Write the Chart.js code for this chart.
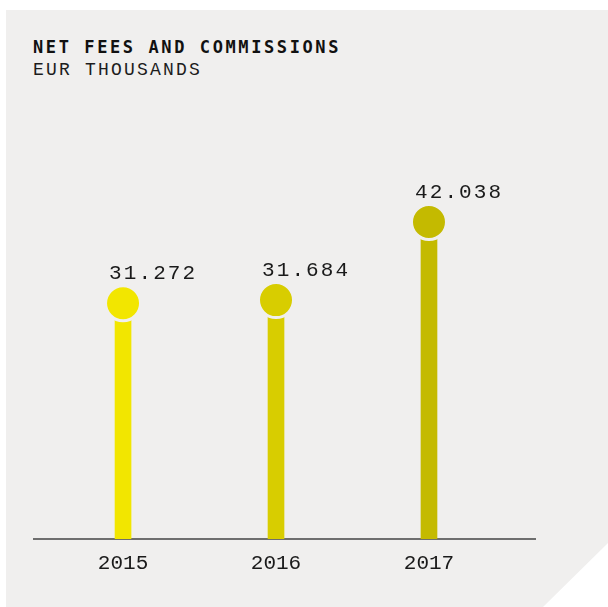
<!DOCTYPE html>
<html>
<head>
<meta charset="utf-8">
<script src="https://cdn.jsdelivr.net/npm/chart.js@4"></script>
<style>
  html, body { margin: 0; padding: 0; background: #ffffff; }
  #wrap { position: relative; width: 608px; height: 607px; overflow: hidden; }
  #panel {
    position: absolute; left: 6px; top: 10px; width: 602px; height: 597px;
    background: #f0efee;
    clip-path: polygon(0 0, 602px 0, 602px 533px, 537px 597px, 0 597px);
  }
  #title {
    position: absolute; left: 33px; top: 38.7px;
    font: bold 17px/17px "DejaVu Sans Mono", monospace;
    letter-spacing: 2.6px; color: #111111; white-space: nowrap;
  }
  #subtitle {
    position: absolute; left: 33px; top: 61.4px;
    font: 18px/18px "Liberation Mono", monospace;
    letter-spacing: 2.2px; color: #1c1c1c; white-space: nowrap;
  }
  #chart { position: absolute; left: 0; top: 0; }
</style>
</head>
<body>
<div id="wrap">
  <div id="panel"></div>
  <div id="title">NET FEES AND COMMISSIONS</div>
  <div id="subtitle">EUR THOUSANDS</div>
  <canvas id="chart" width="608" height="607"></canvas>
</div>
<script>
// net fees and commissions, EUR thousands
const years = ["2015", "2016", "2017"];
const fees = [31.272, 31.684, 42.038];
const valueLabels = ["31.272", "31.684", "42.038"];
const barColors = ["#f2e600", "#d8cd00", "#c4ba00"];

const panelColor = "#f0efee";
const points = years.map((y, i) => ({ x: Number(y), y: fees[i] }));

// value text above each dot, slightly spaced out
const valueText = {
  id: "valueText",
  afterDatasetsDraw(chart) {
    const ctx = chart.ctx;
    const meta = chart.getDatasetMeta(0);
    ctx.save();
    ctx.font = "21px 'Liberation Mono', monospace";
    ctx.letterSpacing = "2.1px";
    ctx.fillStyle = "#1a1a1a";
    ctx.textAlign = "left";
    ctx.textBaseline = "alphabetic";
    meta.data.forEach((pt, i) => {
      ctx.fillText(valueLabels[i], pt.x - 14, pt.y - 24.5);
    });
    ctx.restore();
  }
};

new Chart(document.getElementById("chart"), {
  data: {
    datasets: [
      {
        type: "line",
        data: points,
        showLine: false,
        order: 0,
        pointRadius: 17.5,
        pointHoverRadius: 17.5,
        pointBorderWidth: 3,
        pointBorderColor: panelColor,
        pointBackgroundColor: barColors
      },
      {
        type: "bar",
        data: points,
        order: 1,
        barThickness: 16,
        backgroundColor: barColors,
        borderWidth: 0
      }
    ]
  },
  options: {
    responsive: false,
    animation: false,
    layout: { padding: { left: 34, right: 73, top: 162, bottom: 0 } },
    plugins: {
      legend: { display: false },
      tooltip: { enabled: false },
      title: { display: false }
    },
    scales: {
      x: {
        type: "linear",
        min: 2014.418,
        max: 2017.693,
        offset: false,
        grid: { display: false, drawTicks: false, offset: false },
        border: { display: true, color: "#6e6e6e", width: 2 },
        afterBuildTicks(scale) {
          scale.ticks = years.map(y => ({ value: Number(y) }));
        },
        afterFit(scale) {
          scale.height = 68;
        },
        ticks: {
          padding: 12,
          color: "#1a1a1a",
          font: { family: "'Liberation Mono', monospace", size: 21 },
          maxRotation: 0,
          callback: (v) => String(v)
        }
      },
      y: {
        display: false,
        min: 0,
        max: 50
      }
    }
  },
  plugins: [valueText]
});
</script>
</body>
</html>
